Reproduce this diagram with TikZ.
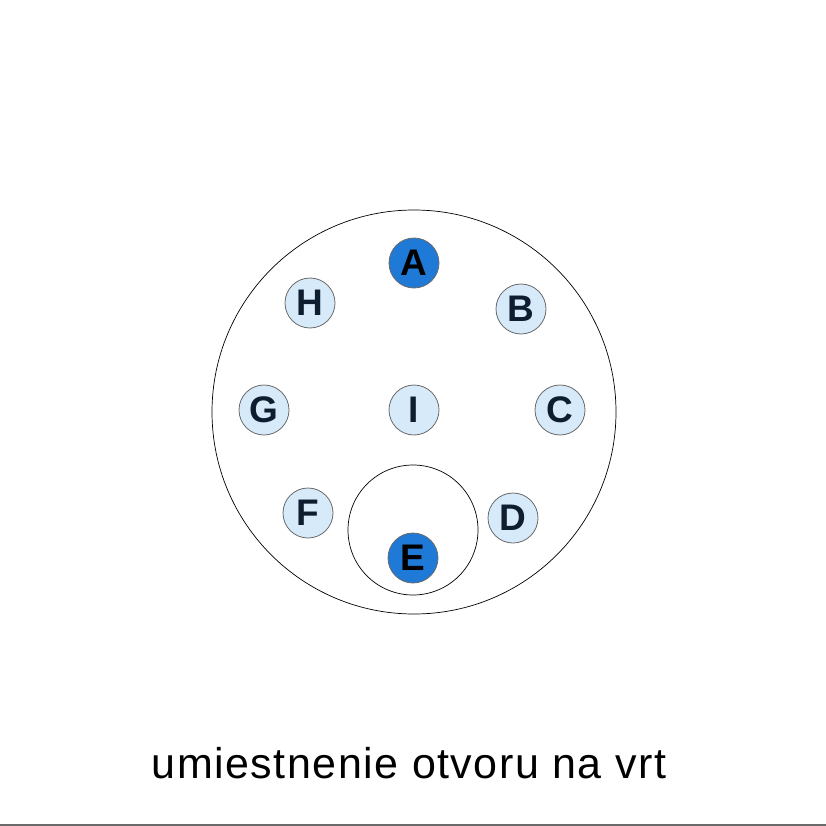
\documentclass[tikz,border=0pt]{standalone}
\usepackage{fontspec}
\setmainfont{Liberation Sans}
\definecolor{darkfill}{HTML}{1E7AD6}
\definecolor{lightfill}{HTML}{D6EAFA}
\definecolor{lighttext}{HTML}{0E1E30}
\definecolor{rimgray}{HTML}{6A6A6A}
\begin{document}
\begin{tikzpicture}[x=1pt,y=-1pt,
  pinlight/.style={circle,draw=rimgray,line width=0.8pt,fill=lightfill,minimum size=50pt,inner sep=0pt,text=lighttext,font=\fontsize{37}{37}\selectfont\bfseries},
  pindark/.style={circle,draw=rimgray,line width=0.8pt,fill=darkfill,minimum size=50pt,inner sep=0pt,text=black,font=\fontsize{37}{37}\selectfont\bfseries},
  outline/.style={draw=black,line width=0.7pt,fill=none}]
\useasboundingbox (0,0) rectangle (826,826);
\fill[white] (0,0) rectangle (826,826);
\node[outline,circle,minimum size=404pt,inner sep=0pt] (body) at (414,412) {};
\node[outline,circle,minimum size=130pt,inner sep=0pt] (socket) at (413,530) {};
\node[pindark]  (A) at (414,263) {A};
\node[pinlight] (B) at (521,309) {B};
\node[pinlight] (C) at (560,410) {C};
\node[pinlight] (D) at (513,518) {D};
\node[pindark]  (E) at (413,558) {E};
\node[pinlight] (F) at (308,513) {F};
\node[pinlight] (G) at (264,410) {G};
\node[pinlight] (H) at (310,303) {H};
\node[pinlight] (I) at (414,410) {I};
\node[font=\fontsize{43}{43}\selectfont\addfontfeature{LetterSpace=3.5},anchor=base] (caption) at (409,778) {umiestnenie otvoru na vrt};
\coordinate (bl) at (0,825);
\coordinate (br) at (826,825);
\draw[rimgray,line width=2pt] (bl) -- (br);
\end{tikzpicture}
\end{document}
